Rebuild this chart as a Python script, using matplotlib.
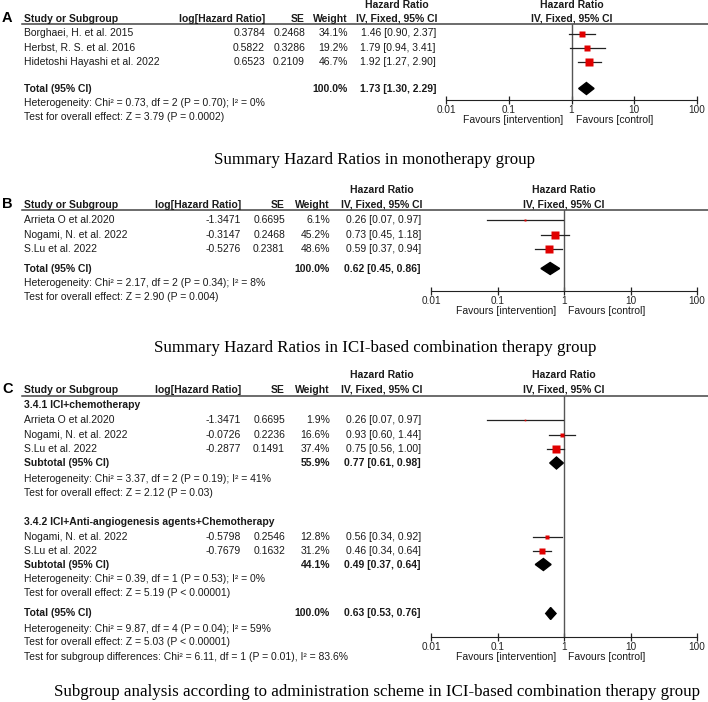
import numpy as np
import matplotlib
matplotlib.use('Agg')
import matplotlib.pyplot as plt
from matplotlib.patches import Polygon

plt.rcParams['font.family'] = ['Liberation Sans', 'DejaVu Sans']

# panel A - monotherapy
a_studies = ['Borghaei, H. et al. 2015', 'Herbst, R. S. et al. 2016', 'Hidetoshi Hayashi et al. 2022']
a_loghr = [0.3784, 0.5822, 0.6523]
a_se = [0.2468, 0.3286, 0.2109]
a_weight = [34.1, 19.2, 46.7]
a_hr = [1.46, 1.79, 1.92]
a_lo = [0.90, 0.94, 1.27]
a_hi = [2.37, 3.41, 2.90]
a_total = [1.73, 1.30, 2.29]
a_stats = ['Heterogeneity: Chi² = 0.73, df = 2 (P = 0.70); I² = 0%',
           'Test for overall effect: Z = 3.79 (P = 0.0002)']

# panel B - ICI-based combination
b_studies = ['Arrieta O et al.2020', 'Nogami, N. et al. 2022', 'S.Lu et al. 2022']
b_loghr = [-1.3471, -0.3147, -0.5276]
b_se = [0.6695, 0.2468, 0.2381]
b_weight = [6.1, 45.2, 48.6]
b_hr = [0.26, 0.73, 0.59]
b_lo = [0.07, 0.45, 0.37]
b_hi = [0.97, 1.18, 0.94]
b_total = [0.62, 0.45, 0.86]
b_stats = ['Heterogeneity: Chi² = 2.17, df = 2 (P = 0.34); I² = 8%',
           'Test for overall effect: Z = 2.90 (P = 0.004)']

# panel C - subgroups
c1_name = '3.4.1 ICI+chemotherapy'
c1_studies = ['Arrieta O et al.2020', 'Nogami, N. et al. 2022', 'S.Lu et al. 2022']
c1_loghr = [-1.3471, -0.0726, -0.2877]
c1_se = [0.6695, 0.2236, 0.1491]
c1_weight = [1.9, 16.6, 37.4]
c1_hr = [0.26, 0.93, 0.75]
c1_lo = [0.07, 0.60, 0.56]
c1_hi = [0.97, 1.44, 1.00]
c1_sub = [0.77, 0.61, 0.98]
c1_subw = 55.9
c1_stats = ['Heterogeneity: Chi² = 3.37, df = 2 (P = 0.19); I² = 41%',
            'Test for overall effect: Z = 2.12 (P = 0.03)']

c2_name = '3.4.2 ICI+Anti-angiogenesis agents+Chemotherapy'
c2_studies = ['Nogami, N. et al. 2022', 'S.Lu et al. 2022']
c2_loghr = [-0.5798, -0.7679]
c2_se = [0.2546, 0.1632]
c2_weight = [12.8, 31.2]
c2_hr = [0.56, 0.46]
c2_lo = [0.34, 0.34]
c2_hi = [0.92, 0.64]
c2_sub = [0.49, 0.37, 0.64]
c2_subw = 44.1
c2_stats = ['Heterogeneity: Chi² = 0.39, df = 1 (P = 0.53); I² = 0%',
            'Test for overall effect: Z = 5.19 (P < 0.00001)']

c_total = [0.63, 0.53, 0.76]
c_stats = ['Heterogeneity: Chi² = 9.87, df = 4 (P = 0.04); I² = 59%',
           'Test for overall effect: Z = 5.03 (P < 0.00001)',
           'Test for subgroup differences: Chi² = 6.11, df = 1 (P = 0.01), I² = 83.6%']

captions = ['Summary Hazard Ratios in monotherapy group',
            'Summary Hazard Ratios in ICI-based combination therapy group',
            'Subgroup analysis according to administration scheme in ICI-based combination therapy group']

ticks = [0.01, 0.1, 1, 10, 100]
tick_labels = ['0.01', '0.1', '1', '10', '100']

W, H = 708, 702
TXT = '#1a1a1a'
FS = 7.5
RED = '#e00000'

fig = plt.figure(figsize=(W / 100, H / 100), dpi=100)
bg = fig.add_axes([0, 0, 1, 1])
bg.set_xlim(0, W)
bg.set_ylim(H, 0)
bg.axis('off')


def txt(x, y, s, ha='left', bold=False, **kw):
    bg.text(x, y, s, ha=ha, va='center', fontsize=FS, color=TXT,
            fontweight='bold' if bold else 'normal', **kw)


def panel(letter, cols, y_hr, y_head, y_line, x_left, x_right, axis_y, rows):
    x_one = (x_left + x_right) / 2
    bg.text(2, y_head - 1, letter, ha='left', va='center', fontsize=10.5, fontweight='bold', color='black')
    txt(24, y_head, 'Study or Subgroup', bold=True)
    txt(cols[0], y_head, 'log[Hazard Ratio]', ha='right', bold=True)
    txt(cols[1], y_head, 'SE', ha='right', bold=True)
    txt(cols[2], y_head, 'Weight', ha='right', bold=True)
    txt(cols[3] - 39, y_hr, 'Hazard Ratio', ha='center', bold=True)
    txt(cols[3] - 39, y_head, 'IV, Fixed, 95% CI', ha='center', bold=True)
    txt(x_one, y_hr, 'Hazard Ratio', ha='center', bold=True)
    txt(x_one, y_head, 'IV, Fixed, 95% CI', ha='center', bold=True)
    bg.plot([22, W], [y_line, y_line], color='#444444', lw=1.1)

    ax = fig.add_axes([x_left / W, 1 - axis_y / H, (x_right - x_left) / W, (axis_y - y_line) / H])
    ax.patch.set_visible(False)
    ax.set_xscale('log')
    ax.set_xlim(0.01, 100)
    ax.set_ylim(axis_y, y_line)
    for s in ['top', 'left', 'right']:
        ax.spines[s].set_visible(False)
    ax.spines['bottom'].set_color('#222222')
    ax.set_yticks([])
    ax.set_xticks(ticks)
    ax.set_xticklabels(tick_labels)
    ax.minorticks_off()
    ax.tick_params(axis='x', direction='inout', length=6, width=0.9, pad=0.5,
                   labelsize=7.2, colors='#222222')
    ax.axvline(1, color='#555555', lw=1)

    for r in rows:
        kind, y = r[0], r[1]
        if kind == 'study':
            name, lg, se, w, hr, lo, hi = r[2:]
            txt(24, y, name)
            txt(cols[0], y, f'{lg:.4f}', ha='right')
            txt(cols[1], y, f'{se:.4f}', ha='right')
            txt(cols[2], y, f'{w:.1f}%', ha='right')
            txt(cols[3], y, f'{hr:.2f} [{lo:.2f}, {hi:.2f}]', ha='right')
            ax.plot([lo, hi], [y, y], color='#222222', lw=0.9, clip_on=False)
            ax.plot([hr], [y], 's', ms=0.85 * np.sqrt(w), color=RED, mec='none', clip_on=False)
        elif kind == 'head':
            txt(24, y, r[2], bold=True)
        elif kind == 'stat':
            txt(24, y, r[2])
        elif kind == 'total':
            label, w, (hr, lo, hi) = r[2:]
            txt(24, y, label, bold=True)
            txt(cols[2], y, f'{w:.1f}%', ha='right', bold=True)
            txt(cols[3], y, f'{hr:.2f} [{lo:.2f}, {hi:.2f}]', ha='right', bold=True)
            ax.add_patch(Polygon([(lo, y), (hr, y - 6), (hi, y), (hr, y + 6)],
                                 closed=True, color='black', clip_on=False))

    txt(x_one - 8, axis_y + 20, 'Favours [intervention]', ha='right')
    txt(x_one + 4, axis_y + 20, 'Favours [control]')


# panel A
rows_a = []
for i, y in enumerate([33.5, 48, 62]):
    rows_a.append(('study', y, a_studies[i], a_loghr[i], a_se[i], a_weight[i], a_hr[i], a_lo[i], a_hi[i]))
rows_a.append(('total', 88.5, 'Total (95% CI)', 100.0, a_total))
rows_a.append(('stat', 103, a_stats[0]))
rows_a.append(('stat', 117.5, a_stats[1]))
panel('A', [265, 305, 348, 436], 5.5, 18.5, 24, 446, 697, 100, rows_a)
bg.text(375, 160.5, captions[0], ha='center', va='center', fontsize=12.2,
        family='Liberation Serif', color='black')

# panel B
rows_b = []
for i, y in enumerate([220, 234.5, 248.5]):
    rows_b.append(('study', y, b_studies[i], b_loghr[i], b_se[i], b_weight[i], b_hr[i], b_lo[i], b_hi[i]))
rows_b.append(('total', 268.5, 'Total (95% CI)', 100.0, b_total))
rows_b.append(('stat', 283.5, b_stats[0]))
rows_b.append(('stat', 297, b_stats[1]))
panel('B', [241, 285, 330, 421], 190, 204.5, 210, 431, 697, 291, rows_b)
bg.text(375, 348.5, captions[1], ha='center', va='center', fontsize=12.2,
        family='Liberation Serif', color='black')

# panel C
rows_c = [('head', 405, c1_name)]
for i, y in enumerate([420, 435, 449]):
    rows_c.append(('study', y, c1_studies[i], c1_loghr[i], c1_se[i], c1_weight[i], c1_hr[i], c1_lo[i], c1_hi[i]))
rows_c.append(('total', 463, 'Subtotal (95% CI)', c1_subw, c1_sub))
rows_c.append(('stat', 478.5, c1_stats[0]))
rows_c.append(('stat', 493.5, c1_stats[1]))
rows_c.append(('head', 522, c2_name))
for i, y in enumerate([537, 551]):
    rows_c.append(('study', y, c2_studies[i], c2_loghr[i], c2_se[i], c2_weight[i], c2_hr[i], c2_lo[i], c2_hi[i]))
rows_c.append(('total', 564.5, 'Subtotal (95% CI)', c2_subw, c2_sub))
rows_c.append(('stat', 579.5, c2_stats[0]))
rows_c.append(('stat', 593.5, c2_stats[1]))
rows_c.append(('total', 613.5, 'Total (95% CI)', 100.0, c_total))
for i, y in enumerate([628.5, 642, 657]):
    rows_c.append(('stat', y, c_stats[i]))
panel('C', [241, 285, 330, 421], 375, 390, 395.5, 431, 697, 637, rows_c)
bg.text(377, 691.5, captions[2], ha='center', va='center', fontsize=12.2,
        family='Liberation Serif', color='black')

fig.savefig('out.png', dpi=100)
